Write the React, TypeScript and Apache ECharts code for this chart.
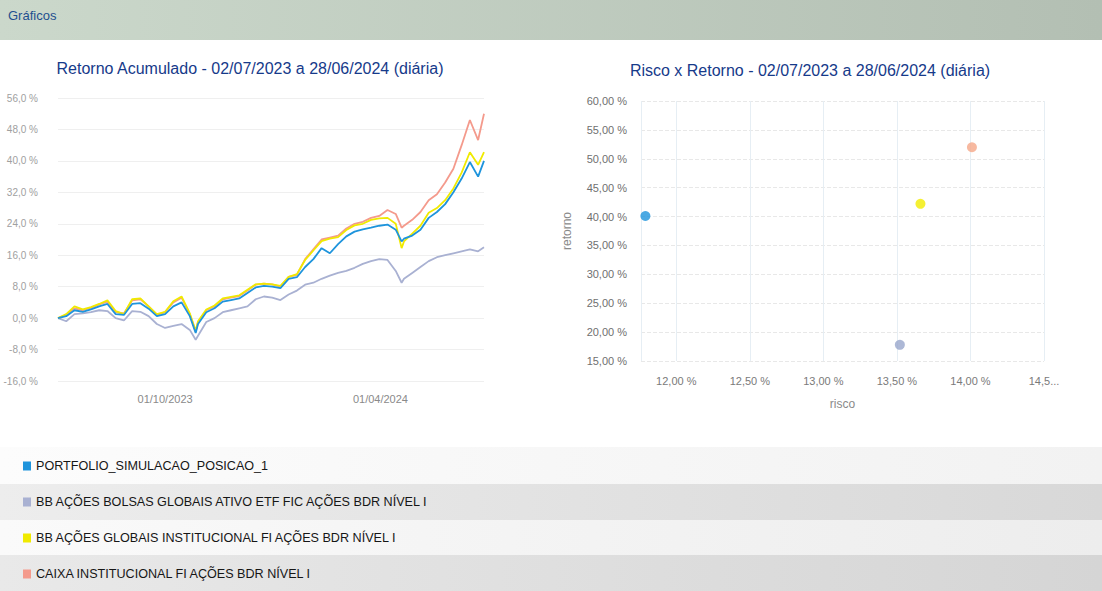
import React, { useEffect, useRef } from 'react';
import * as echarts from 'echarts';

const DATES = [
  '2023-07-02', '2023-07-09', '2023-07-16', '2023-07-23', '2023-07-30', '2023-08-06', '2023-08-13',
  '2023-08-20', '2023-08-27', '2023-09-03', '2023-09-10', '2023-09-17', '2023-09-24', '2023-10-01',
  '2023-10-08', '2023-10-15', '2023-10-22', '2023-10-27', '2023-10-29', '2023-11-05', '2023-11-12',
  '2023-11-19', '2023-11-26', '2023-12-03', '2023-12-10', '2023-12-17', '2023-12-24', '2023-12-31',
  '2024-01-07', '2024-01-14', '2024-01-21', '2024-01-28', '2024-02-04', '2024-02-11', '2024-02-18',
  '2024-02-25', '2024-03-03', '2024-03-10', '2024-03-17', '2024-03-24', '2024-03-31', '2024-04-07',
  '2024-04-14', '2024-04-19', '2024-04-21', '2024-04-28', '2024-05-05', '2024-05-12', '2024-05-19',
  '2024-05-26', '2024-06-02', '2024-06-09', '2024-06-16', '2024-06-23', '2024-06-28',
];

// Retorno acumulado (%)
const PORTFOLIO = [
  0, 0.5, 2.0, 1.6, 2.2, 3.0, 3.6, 1.0, 0.8, 3.6, 3.8, 2.4, 0.5, 1.0,
  3.0, 4.0, 0.5, -3.8, -1.5, 1.5, 2.5, 4.2, 4.6, 5.0, 6.4, 7.8, 8.2, 8.0,
  7.6, 10.0, 10.4, 13.0, 15.0, 17.8, 16.5, 18.8, 20.8, 22.0, 22.6, 23.0, 23.5, 23.8,
  22.5, 19.5, 20.2, 21.0, 22.5, 25.5, 27.0, 29.0, 32.0, 35.5, 39.7, 36.0, 40.0,
];
const BB_BOLSAS = [
  0, -0.8, 1.0, 1.2, 1.5, 2.0, 1.8, 0.0, -0.6, 1.8, 1.6, 0.5, -1.5, -2.5,
  -2.0, -1.5, -3.0, -5.5, -4.5, -1.0, 0.0, 1.5, 2.0, 2.5, 3.0, 4.8, 5.5, 5.2,
  4.6, 6.0, 7.0, 8.5, 9.0, 10.0, 10.8, 11.5, 12.0, 12.8, 13.8, 14.5, 15.0, 14.8,
  12.0, 9.0, 10.0, 11.5, 13.0, 14.5, 15.5, 16.0, 16.5, 17.0, 17.5, 17.0, 18.0,
];
const BB_GLOBAIS = [
  0, 1.0, 3.0, 2.2, 2.8, 3.6, 4.5, 1.8, 1.0, 4.8, 5.0, 3.0, 1.0, 1.6,
  4.3, 5.5, 1.2, -3.2, -0.8, 2.2, 3.2, 5.0, 5.4, 5.8, 7.2, 8.6, 8.8, 8.6,
  8.2, 10.5, 11.2, 14.8, 17.2, 19.6, 20.2, 20.6, 22.4, 23.6, 24.0, 25.0, 25.4, 25.5,
  24.0, 17.8, 19.5, 21.5, 23.5, 26.8, 28.0, 30.0, 33.0, 37.0, 42.2, 39.0, 42.2,
];
const CAIXA = [
  0, 0.8, 2.5, 2.0, 2.6, 3.5, 4.2, 1.5, 1.2, 4.5, 4.8, 3.0, 0.8, 1.5,
  4.0, 5.2, 1.0, -3.5, -1.0, 2.0, 3.0, 4.8, 5.2, 5.6, 7.0, 8.5, 8.8, 8.6,
  8.0, 10.5, 11.0, 15.0, 17.5, 20.0, 20.5, 21.0, 22.8, 24.0, 24.5, 25.5, 26.0, 27.5,
  26.5, 23.0, 23.5, 25.0, 27.0, 30.0, 31.5, 34.5, 38.0, 44.0, 50.4, 45.3, 52.0,
];

const NAMES = [
  'PORTFOLIO_SIMULACAO_POSICAO_1',
  'BB AÇÕES BOLSAS GLOBAIS ATIVO ETF FIC AÇÕES BDR NÍVEL I',
  'BB AÇÕES GLOBAIS INSTITUCIONAL FI AÇÕES BDR NÍVEL I',
  'CAIXA INSTITUCIONAL FI AÇÕES BDR NÍVEL I',
];
const LINE_SERIES = [PORTFOLIO, BB_BOLSAS, BB_GLOBAIS, CAIXA];

// Risco x Retorno (%)
const RISCO = [11.79, 13.52, 13.66, 14.01];
const RETORNO = [40.1, 17.8, 42.2, 52.0];

const LEFT_X_LABELS = ['2023-10-01', '2024-04-01'];
const RIGHT_X_LABELS = [12, 12.5, 13, 13.5, 14, 14.5];

const COLORS = ['#1e94dc', '#a9b1d2', '#f0ea00', '#f49a8c'];
const DOT_COLORS = ['#1e94dc', '#98a6cc', '#f2ec00', '#f5a888'];
const Z = [5, 2, 4, 3];

const ts = (s: string) => {
  const [y, m, d] = s.split('-').map(Number);
  return Date.UTC(y, m - 1, d);
};
const fmtDate = (v: number) => {
  const d = new Date(v);
  const p = (n: number) => String(n).padStart(2, '0');
  return `${p(d.getUTCDate())}/${p(d.getUTCMonth() + 1)}/${d.getUTCFullYear()}`;
};

export default function App() {
  const ref = useRef<HTMLDivElement>(null);

  useEffect(() => {
    if (!ref.current) return;
    const chart = echarts.init(ref.current, undefined, { renderer: 'svg' });
    const grad = (a: string, b: string) =>
      new echarts.graphic.LinearGradient(0, 0, 1, 0, [
        { offset: 0, color: a },
        { offset: 1, color: b },
      ]);
    const stripes = [
      [447, 37, '#fcfcfc', '#f2f2f2'],
      [484, 36, '#ededed', '#d8d8d8'],
      [520, 35, '#fafafa', '#ededed'],
      [555, 36, '#e9e9e9', '#d5d5d5'],
    ];
    const font = 'Liberation Sans, Arial, sans-serif';

    const option: any = {
      animation: false,
      backgroundColor: '#ffffff',
      textStyle: { fontFamily: font },
      graphic: [
        {
          type: 'rect',
          z: -10,
          shape: { x: 0, y: 0, width: 1102, height: 40 },
          style: { fill: grad('#cbd8cb', '#b3bfb3') },
        },
        ...stripes.map((s) => ({
          type: 'rect',
          z: -10,
          shape: { x: 0, y: s[0], width: 1102, height: s[1] },
          style: { fill: grad(s[2] as string, s[3] as string) },
        })),
        {
          type: 'text',
          x: 8,
          y: 15,
          style: { text: 'Gráficos', fontSize: 13, fill: '#1f4f8f', verticalAlign: 'middle', fontFamily: font },
        },
        {
          type: 'text',
          x: 250,
          y: 68,
          style: {
            text: 'Retorno Acumulado - 02/07/2023 a 28/06/2024 (diária)',
            fontSize: 16,
            fill: '#163a8a',
            align: 'center',
            verticalAlign: 'middle',
            fontFamily: font,
          },
        },
        {
          type: 'text',
          x: 810,
          y: 70,
          style: {
            text: 'Risco x Retorno - 02/07/2023 a 28/06/2024 (diária)',
            fontSize: 16,
            fill: '#163a8a',
            align: 'center',
            verticalAlign: 'middle',
            fontFamily: font,
          },
        },
      ],
      legend: {
        orient: 'vertical',
        left: 18,
        top: 454,
        itemWidth: 8,
        itemHeight: 9,
        itemGap: 22,
        icon: 'rect',
        selectedMode: false,
        data: NAMES,
        textStyle: { fontSize: 12.6, color: '#161616', lineHeight: 14 },
      },
      grid: [
        { left: 58, top: 98, width: 426, height: 283 },
        { left: 641, top: 101, width: 403, height: 260 },
      ],
      xAxis: [
        {
          type: 'value',
          gridIndex: 0,
          min: ts(DATES[0]),
          max: ts(DATES[DATES.length - 1]),
          axisLine: { show: false },
          axisTick: { show: false },
          splitLine: { show: false },
          axisLabel: {
            customValues: LEFT_X_LABELS.map(ts),
            formatter: (v: number) => fmtDate(v),
            color: '#8a8a8a',
            fontSize: 11,
            margin: 12,
          },
        },
        {
          type: 'value',
          gridIndex: 1,
          min: 11.76,
          max: 14.5,
          name: 'risco',
          nameLocation: 'middle',
          nameGap: 37,
          nameTextStyle: { color: '#8a8a8a', fontSize: 12 },
          axisLine: { show: false },
          axisTick: { show: false },
          splitLine: { show: true, lineStyle: { color: '#e6eef4', width: 1 } },
          axisLabel: {
            customValues: RIGHT_X_LABELS,
            formatter: (v: number) => (v >= 14.5 ? '14,5...' : v.toFixed(2).replace('.', ',') + ' %'),
            color: '#7a7a7a',
            fontSize: 11,
            margin: 14,
          },
        },
      ],
      yAxis: [
        {
          type: 'value',
          gridIndex: 0,
          min: -16,
          max: 56,
          interval: 8,
          axisLine: { show: false },
          axisTick: { show: false },
          splitLine: { lineStyle: { color: '#efefef', width: 1 } },
          axisLabel: {
            formatter: (v: number) => v.toFixed(1).replace('.', ',') + ' %',
            color: '#a0a0a0',
            fontSize: 10,
            margin: 20,
          },
        },
        {
          type: 'value',
          gridIndex: 1,
          min: 15,
          max: 60,
          interval: 5,
          name: 'retorno',
          nameLocation: 'middle',
          nameGap: 68,
          nameRotate: 90,
          nameTextStyle: { color: '#8a8a8a', fontSize: 12 },
          axisLine: { show: false },
          axisTick: { show: false },
          splitLine: { lineStyle: { color: '#e8e8e8', width: 1, type: 'dashed' } },
          axisLabel: {
            formatter: (v: number) => v.toFixed(2).replace('.', ',') + ' %',
            color: '#6f6f6f',
            fontSize: 11,
            margin: 14,
          },
        },
      ],
      series: [
        ...LINE_SERIES.map((vals, i) => ({
          name: NAMES[i],
          type: 'line',
          xAxisIndex: 0,
          yAxisIndex: 0,
          z: Z[i],
          showSymbol: false,
          symbol: 'none',
          color: COLORS[i],
          lineStyle: { width: 1.8, color: COLORS[i] },
          data: vals.map((v, j) => [ts(DATES[j]), v]),
        })),
        ...NAMES.map((n, i) => ({
          name: n,
          type: 'scatter',
          xAxisIndex: 1,
          yAxisIndex: 1,
          symbolSize: 10,
          color: COLORS[i],
          itemStyle: { color: DOT_COLORS[i] },
          data: [[RISCO[i], RETORNO[i]]],
        })),
      ],
    };
    chart.setOption(option);
    return () => chart.dispose();
  }, []);

  return <div ref={ref} style={{ position: 'absolute', left: 0, top: 0, width: 1102, height: 591 }} />;
}
